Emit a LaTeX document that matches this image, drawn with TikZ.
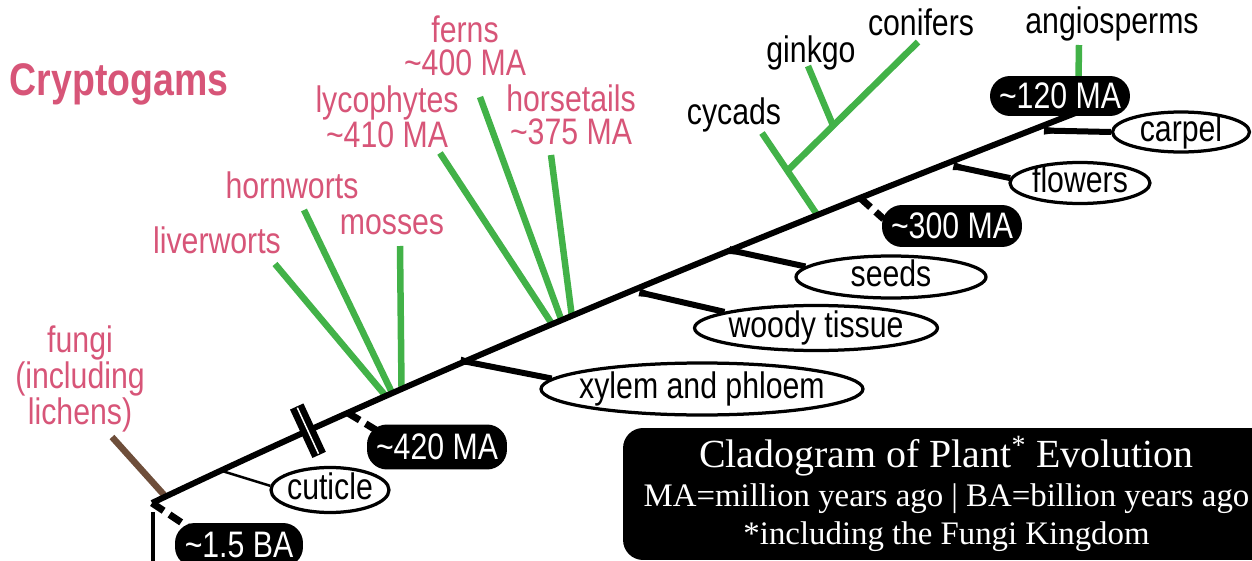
\documentclass[tikz,border=0pt]{standalone}
\usepackage{fontspec}
\newfontfamily\cladefont{Liberation Sans}[FakeStretch=0.82]
\newfontfamily\titlefont{Liberation Serif}
\usepackage{tikz}
\usetikzlibrary{arrows.meta, shapes.geometric, calc, backgrounds}
\definecolor{CladePink}{RGB}{215,85,120}
\definecolor{CladeGreen}{RGB}{66,178,72}
\definecolor{FungiBrown}{RGB}{110,78,58}
\newcommand{\ovtext}[1]{\makebox[0pt]{#1}}

\begin{document}
\begin{tikzpicture}[x=0.02cm, y=-0.02cm,
	font=\cladefont\fontsize{21}{18.6}\selectfont,
	lbl/.style={text=CladePink, align=center, inner sep=0pt},
	sp/.style={inner sep=0pt},
	ov/.style={ellipse, draw, line width=0.065cm, fill=white, inner sep=0pt, text height=13pt, text depth=2.5pt},
	pill/.style={rectangle, rounded corners=0.4cm, fill=black, text=white, inner sep=0pt, minimum width=2.8cm},
	cl/.style={CladeGreen, line width=0.13cm},
	tk/.style={{Triangle[length=0.6cm, width=0.12cm]}-, line width=0.12cm},
	dt/.style={line width=0.14cm, dash pattern=on 0.28cm off 0.14cm}]

	\useasboundingbox (0,0) rectangle (1252,561);
	\clip (0,0) rectangle (1252,561);

	% trunk
	\draw[line width=0.12cm] (152,503) coordinate (base)
		.. controls (452,360) and (778,229) .. (1078,112) coordinate (ttop)
		coordinate[pos=0.015] (tfung) coordinate[pos=0.076] (tcut)
		coordinate[pos=0.171] (tbar) coordinate[pos=0.214] (t420)
		coordinate[pos=0.255] (tliv) coordinate[pos=0.262] (thorn)
		coordinate[pos=0.272] (tmoss) coordinate[pos=0.433] (tlyc)
		coordinate[pos=0.443] (tfern) coordinate[pos=0.454] (thors)
		coordinate[pos=0.716] (tcyc) coordinate[pos=0.762] (t300);
	\draw[line width=0.09cm] (153,512) -- ++(0,60);

	% break mark
	\draw[line width=0.15cm] ($(tbar)+(-14.5,-22.7)$) -- ($(tbar)+(7.9,25.7)$);
	\draw[line width=0.15cm] ($(tbar)+(-7.9,-25.7)$) -- ($(tbar)+(14.5,22.7)$);
	\draw[white, line width=0.03cm] ($(tbar)+(-10.6,-23)$) -- ($(tbar)+(10.6,23)$);

	% labels
	\node[lbl, font=\cladefont\bfseries\fontsize{26}{30}\selectfont] (crypto) at (119,84) {Cryptogams};
	\node[lbl] (fungi) at (80,379) {fungi\\(including\\lichens)};
	\node[lbl] (liver) at (217,240) {liverworts};
	\node[lbl] (horn) at (292,185) {hornworts};
	\node[lbl] (moss) at (392,225) {mosses};
	\node[lbl] (lyco) at (387,117) {lycophytes\\\textasciitilde410 MA};
	\node[lbl] (fern) at (465,46) {ferns\\\textasciitilde400 MA};
	\node[lbl] (horse) at (571,115) {horsetails\\\textasciitilde375 MA};
	\node[sp] (cycad) at (734,115) {cycads};
	\node[sp] (ginkgo) at (811,53) {ginkgo};
	\node[sp] (conif) at (921,22) {conifers};
	\node[sp] (angio) at (1112,24) {angiosperms};

	% characters
	\node[ov, minimum width=2.36cm, minimum height=0.9cm] (cuticle) at (330,490) {\ovtext{cuticle}};
	\node[ov, minimum width=6.44cm, minimum height=1.04cm] (xylem) at (702,389) {\ovtext{xylem and phloem}};
	\node[ov, minimum width=4.86cm, minimum height=0.9cm] (woody) at (816,328) {\ovtext{woody tissue}};
	\node[ov, minimum width=3.8cm, minimum height=0.84cm] (seeds) at (891,277) {\ovtext{seeds}};
	\node[ov, minimum width=2.8cm, minimum height=0.82cm] (flowers) at (1080,183) {\ovtext{flowers}};
	\node[ov, minimum width=2.74cm, minimum height=0.8cm] (carpel) at (1181,132) {\ovtext{carpel}};

	% dates
	\node[pill, minimum width=2.56cm, minimum height=0.88cm] (ba15) at (239,545) {\textasciitilde1.5 BA};
	\node[pill, minimum height=0.9cm] (ma420) at (437,447) {\textasciitilde420 MA};
	\node[pill, minimum height=0.84cm] (ma300) at (952,226) {\textasciitilde300 MA};
	\node[pill, minimum height=0.8cm] (ma120) at (1060,96) {\textasciitilde120 MA};

	% title
	\node[fill=black, rounded corners=0.4cm, text=white, align=center, minimum width=12.94cm, minimum height=2.64cm,
		font=\titlefont\fontsize{18.7}{22}\selectfont] (title) at (946.5,494)
		{{\fontsize{22.7}{22}\selectfont Cladogram of Plant\textsuperscript{*} Evolution}\\
		MA=million years ago | BA=billion years ago\\
		*including the Fungi Kingdom};

	% ticks to the characters
	\coordinate (xyltip) at (437,356);
	\coordinate (woodtip) at (616,287);
	\coordinate (seedtip) at (706,245);
	\coordinate (flowtip) at (930,161);
	\coordinate (carptip) at (1020,130);
	\draw[tk] (xyltip) -- (xylem.176);
	\draw[tk] (woodtip) -- (woody.170);
	\draw[tk] (seedtip) -- (seeds.173);
	\draw[tk] (flowtip) -- (flowers.176);
	\draw[tk] (carptip) -- (carpel.west);
	\draw[line width=0.05cm] (tcut) -- (cuticle.176);

	% clades and dates, under the trunk
	\foreach \n/\x/\y in {fungtop/112/437, livtop/275/264, horntop/304/210, mosstop/400/246,
		lyctop/440/153, ferntop/480/97, horstop/551/155, cyctop/762/133, contop/918/42,
		ginktop/808/66, angtop/1079/45}
		\coordinate (\n) at (\x,\y);
	\coordinate (jcyc) at ($(tcyc)!0.54!(cyctop)$);
	\coordinate (jgink) at ($(jcyc)!0.35!(contop)$);
	\begin{scope}[on background layer]
		\draw[cl, FungiBrown] (tfung) -- (fungtop);
		\foreach \a/\b in {tliv/livtop, thorn/horntop, tmoss/mosstop, tlyc/lyctop, tfern/ferntop,
			thors/horstop, tcyc/cyctop, jcyc/contop, jgink/ginktop, ttop/angtop}
			\draw[cl] (\a) -- (\b);
		\draw[dt] (base) -- ([xshift=0.3cm, yshift=0.34cm]ba15.west);
		\draw[dt] (t420) -- ([xshift=0.22cm, yshift=0.32cm]ma420.west);
		\draw[dt] (t300) -- ([xshift=0.04cm, yshift=0.14cm]ma300.west);
	\end{scope}
\end{tikzpicture}
\end{document}
